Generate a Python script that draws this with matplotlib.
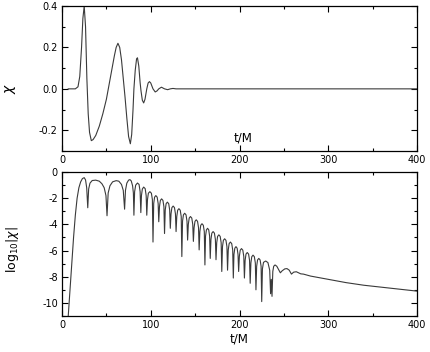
#!/usr/bin/env python3
import matplotlib

matplotlib.use("Agg")
import numpy as np
import matplotlib.pyplot as plt
from matplotlib.ticker import MultipleLocator

plt.rcParams["axes.unicode_minus"] = False
plt.rcParams["font.family"] = "DejaVu Sans"

# waveform chi(t)
t_chi = [7, 15, 18, 20, 22, 23.5, 25, 26.5, 28, 29.5, 31, 33, 35, 38, 42, 46, 50,
         53, 56, 59, 61, 63, 65, 67, 69, 71, 73, 75, 77, 78.5, 80, 81, 82.5, 84,
         85, 86.5, 88, 89, 90.5, 92, 93.5, 95.5, 97, 98.5, 100, 102.5, 105, 107,
         109, 112, 115.5, 119, 122, 125, 128.5, 400]
chi = [0, 0, 0.01, 0.06, 0.2, 0.34, 0.4, 0.3, 0.05, -0.12, -0.21, -0.25, -0.245,
       -0.225, -0.18, -0.12, -0.05, 0.02, 0.09, 0.16, 0.2, 0.22, 0.2, 0.14, 0.05,
       -0.04, -0.14, -0.23, -0.265, -0.22, -0.1, 0.0, 0.09, 0.145, 0.15, 0.11,
       0.03, -0.01, -0.055, -0.068, -0.05, 0.0, 0.028, 0.035, 0.028, 0.0, -0.015,
       -0.01, 0.0, 0.008, 0.0, -0.004, 0.0, 0.002, 0, 0]

# log10|chi|
t_log = [7, 9, 11, 13, 15, 17, 19, 21, 23, 25, 26.5, 27.8, 29,
         30, 31.5, 34, 38, 42, 45, 47.5, 49.5, 50.7,
         52, 54, 57, 61, 64, 67, 69, 70.5,
         71.5, 73, 75, 76.5, 78, 79.5, 80.4, 81,
         81.8, 83, 85, 86.8, 88, 88.8,
         89.5, 90.5, 92, 93.7, 94.8, 95.5,
         96.3, 97.3, 99, 100.7, 101.8, 102.5,
         103.3, 104.3, 105.7, 107.2, 108.3, 109,
         109.8, 110.8, 112.2, 113.7, 114.8, 115.5,
         116.3, 117.3, 118.7, 120.2, 121.3, 122,
         122.8, 123.8, 125.2, 126.7, 127.8, 128.5,
         129.3, 130.3, 131.7, 133.2, 134.3, 135,
         135.8, 136.8, 138.2, 139.7, 140.8, 141.5,
         142.3, 143.3, 144.7, 146.2, 147.3, 148,
         148.8, 149.8, 151.2, 152.7, 153.8, 154.5,
         155.3, 156.3, 157.7, 159.2, 160.3, 161,
         161.7, 162.7, 164, 165.3, 166.3, 167,
         167.8, 168.8, 170.2, 171.7, 172.8, 173.5,
         174.3, 175.3, 176.7, 178.2, 179.3, 180,
         180.8, 181.8, 183.2, 184.7, 185.8, 186.5,
         187.3, 188.3, 189.7, 191.2, 192.3, 193,
         193.7, 194.7, 196, 197.3, 198.3, 199,
         199.8, 200.8, 202.2, 203.7, 204.8, 205.5,
         206.3, 207.3, 208.7, 210.2, 211.3, 212,
         212.8, 213.8, 215.2, 216.7, 217.8, 218.5,
         219.3, 220.3, 221.7, 223.2, 224.3, 225,
         225.8, 227, 229.5, 232, 234, 235, 235.8, 236.6,
         237.5, 238.5, 240, 242, 244, 246,
         248, 251, 253.5, 256, 258.5, 261, 264, 267, 269, 272,
         280, 300, 320, 340, 360, 380, 400]
v_log = [-11, -9, -7, -5, -3.3, -2.0, -1.2, -0.75, -0.5, -0.43, -0.6, -1.2, -2.73,
         -1.3, -0.85, -0.65, -0.62, -0.7, -0.9, -1.2, -1.8, -3.34,
         -1.6, -1.05, -0.75, -0.66, -0.7, -0.95, -1.4, -2.84,
         -1.4, -0.85, -0.62, -0.58, -0.68, -1.05, -1.6, -3.3,
         -1.5, -1.0, -0.84, -0.95, -1.5, -3.1,
         -1.8, -1.3, -1.15, -1.27, -1.8, -3.3,
         -2.1, -1.62, -1.5, -1.62, -2.1, -5.35,
         -2.4, -1.92, -1.8, -1.92, -2.4, -3.8,
         -2.65, -2.17, -2.05, -2.17, -2.65, -4.7,
         -2.9, -2.42, -2.3, -2.42, -2.9, -4.3,
         -3.2, -2.72, -2.6, -2.72, -3.2, -4.55,
         -3.4, -2.92, -2.8, -2.92, -3.4, -6.46,
         -3.75, -3.27, -3.15, -3.27, -3.75, -5.2,
         -4.0, -3.52, -3.4, -3.52, -4.0, -5.3,
         -4.25, -3.77, -3.65, -3.77, -4.25, -5.95,
         -4.55, -4.07, -3.95, -4.07, -4.55, -7.1,
         -4.9, -4.42, -4.3, -4.42, -4.9, -6.6,
         -5.15, -4.67, -4.55, -4.67, -5.15, -6.7,
         -5.4, -4.92, -4.8, -4.92, -5.4, -7.6,
         -5.7, -5.22, -5.1, -5.22, -5.7, -7.5,
         -5.95, -5.47, -5.35, -5.47, -5.95, -8.1,
         -6.3, -5.82, -5.7, -5.82, -6.3, -7.6,
         -6.45, -5.97, -5.85, -5.97, -6.45, -8.1,
         -6.75, -6.27, -6.15, -6.27, -6.75, -8.5,
         -6.95, -6.47, -6.35, -6.47, -6.95, -9.0,
         -7.2, -6.72, -6.6, -6.72, -7.2, -9.9,
         -7.4, -6.9, -6.8, -6.92, -7.5, -9.3, -8.2, -9.5,
         -7.6, -7.2, -7.1, -7.2, -7.45, -7.7,
         -7.55, -7.4, -7.38, -7.5, -7.8, -7.65, -7.62, -7.72, -7.78, -7.8,
         -7.95, -8.2, -8.45, -8.65, -8.8, -8.95, -9.1]

x_ticks = [0, 100, 200, 300, 400]
line_col = "#3a3a3a"

fig = plt.figure(figsize=(4.31, 3.52), dpi=100)
ax1 = fig.add_axes([0.1439, 0.571, 0.8237, 0.412])
ax2 = fig.add_axes([0.1439, 0.1023, 0.8237, 0.409])

ax1.plot(t_chi, chi, color=line_col, lw=0.8)
ax2.plot(t_log, v_log, color=line_col, lw=0.8)

ax1.set_xlim(0, 400)
ax1.set_ylim(-0.3, 0.4)
ax1.set_yticks([-0.2, 0.0, 0.2, 0.4])
ax1.set_yticklabels(["-0.2", "0.0", "0.2", "0.4"])
ax1.yaxis.set_minor_locator(MultipleLocator(0.1))
ax1.set_ylabel(r"$\chi$", fontsize=10)
ax1.yaxis.set_label_coords(-0.125, 0.43)
ax1.text(204, -0.237, "t/M", fontsize=8.5, ha="center", va="center")

ax2.set_xlim(0, 400)
ax2.set_ylim(-11, 0)
ax2.set_yticks([0, -2, -4, -6, -8, -10])
ax2.yaxis.set_minor_locator(MultipleLocator(1))
ax2.set_xlabel("t/M", fontsize=8.5, labelpad=2)
ax2.set_ylabel(r"$\mathrm{log}_{10}|\chi|$", fontsize=9)
ax2.yaxis.set_label_coords(-0.115, 0.46)

for ax in (ax1, ax2):
    ax.set_xticks(x_ticks)
    ax.xaxis.set_minor_locator(MultipleLocator(50))
    ax.tick_params(which="both", direction="in", top=True, right=True,
                   labelsize=7, width=0.8)
    ax.tick_params(which="major", length=4, pad=3)
    ax.tick_params(which="minor", length=2)
    for s in ax.spines.values():
        s.set_linewidth(0.9)

fig.savefig("out.png", dpi=100)
